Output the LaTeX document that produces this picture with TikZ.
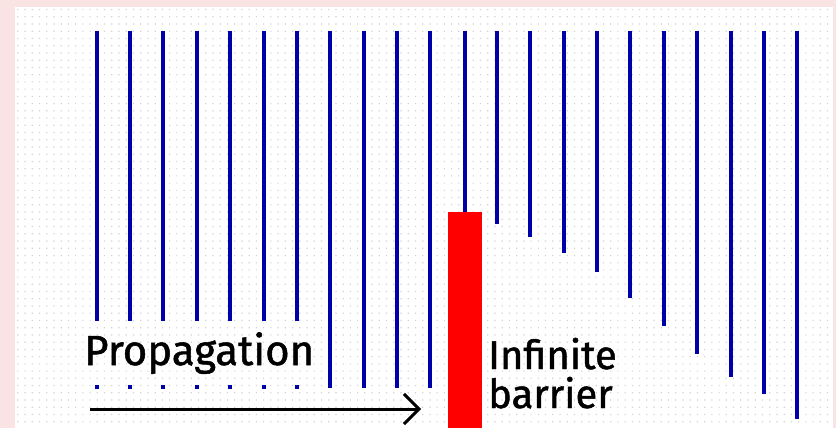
\documentclass[tikz,border=0pt]{standalone}
\usepackage{fontspec}
\newfontfamily\labelfont{Fira Sans}[FakeBold=1.2]
\usetikzlibrary{positioning, arrows.meta}
\definecolor{wavefront}{HTML}{0000A8}
\definecolor{barrierred}{HTML}{FF0000}
\definecolor{slidepink}{HTML}{FAE3E3}
\definecolor{griddot}{HTML}{D2D2D2}
\tikzset{
	waveline/.style={
			draw=wavefront,
			line width=4pt
		},
	wavedot/.style={
			fill=wavefront
		},
	barrierblock/.style={
			shape=rectangle,
			fill=barrierred,
			minimum width=34pt,
			minimum height=216pt,
			inner sep=0pt
		},
	labeltext/.style={
			font=\labelfont\fontsize{42}{37}\selectfont,
			text=black,
			inner sep=0pt
		},
	barriertext/.style={
			labeltext,
			font=\labelfont\fontsize{40}{37}\selectfont,
			text height=28pt,
			text depth=4pt
		},
	propagationarrow/.style={
			draw=black,
			line width=3pt,
			-{Straight Barb[length=15pt, width=30pt, line width=3pt]}
		}
}

\begin{document}
\begin{tikzpicture}[x=1pt, y=-1pt]
				\useasboundingbox (0,0) rectangle (836,428);
				\fill[slidepink] (0,0) rectangle (836,428);
				\fill[white] (15,7) rectangle (833,428);
				\fill[griddot] \foreach \gx in {0,...,112} {\foreach \gy in {0,...,57} {({17.2+7.23*\gx},{9+7.23*\gy}) rectangle ++(1.2,1.2)}};

				\node[barrierblock] (barrier) at (465.3,320) {};

				\foreach \i/\bottom in {1/321, 2/321, 3/321, 4/321, 5/321, 6/321, 7/321, 8/388, 9/388, 10/388, 11/388, 13/224, 14/237, 15/253, 16/272, 17/298, 18/326, 19/354, 20/377, 21/394, 22/419}
					\draw[waveline] ({96.7+33.36*(\i-1)},31) -- ({96.7+33.36*(\i-1)},\bottom);
				\draw[waveline] (barrier.north |- 0,31) -- (barrier.north);

				\foreach \i in {1,...,7}
					\fill[wavedot] ({96.7+33.36*(\i-1)-2},385) rectangle ++(4,4);

				\node[labeltext, anchor=base west] (propagation) at (84,365) {Propagation};
				\node[barriertext, anchor=base west] (infinite) at (488,369) {Infinite};
				\node[barriertext, anchor=base west] (barrierlabel) at (488,408) {barrier};

				\coordinate (arrowstart) at (90,409);
				\coordinate (arrowend) at (421,409);
				\draw[propagationarrow] (arrowstart) -- (arrowend);

			\end{tikzpicture}
\end{document}
